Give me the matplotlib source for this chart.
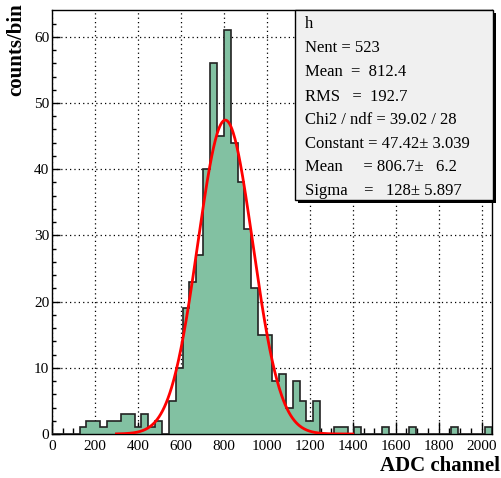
import numpy as np
import matplotlib
matplotlib.use("Agg")
import matplotlib.pyplot as plt
from matplotlib.patches import Rectangle

# ---- data ----
bin_width = 32
n_bins = 64
edges = np.arange(0, bin_width * n_bins + 1, bin_width)
# nonzero bin contents: bin index -> counts
bin_index = [4, 5, 6, 7, 8, 9, 10, 11, 12, 13, 14, 15,
             17, 18, 19, 20, 21, 22, 23, 24, 25, 26, 27, 28, 29, 30, 31,
             32, 33, 34, 35, 36, 37, 38, 41, 42, 44, 48, 52, 58, 63]
bin_counts = [1, 2, 2, 1, 2, 2, 3, 3, 1, 3, 1, 2,
              5, 10, 19, 23, 27, 40, 56, 45, 61, 44, 38, 31, 22, 15, 15,
              8, 9, 4, 8, 5, 2, 5, 1, 1, 1, 1, 1, 1, 1]
counts = np.zeros(n_bins)
counts[bin_index] = bin_counts

fit_constant = 47.42
fit_mean = 806.7
fit_sigma = 128.0
fit_range = (300, 1400)

stats_lines = ["h", "Nent = 523", "Mean  =  812.4", "RMS   =  192.7",
               "Chi2 / ndf = 39.02 / 28", "Constant = 47.42\u00b1 3.039",
               "Mean     = 806.7\u00b1   6.2", "Sigma    =   128\u00b1 5.897"]

x_ticks = [0, 200, 400, 600, 800, 1000, 1200, 1400, 1600, 1800, 2000]
y_ticks = [0, 10, 20, 30, 40, 50, 60]

# ---- figure ----
W, H = 502, 478
fig = plt.figure(figsize=(W / 100, H / 100), dpi=100)
serif = "Liberation Serif"
plt.rcParams["font.family"] = serif

def fx(px):
    return px / W

def fy(py):
    return 1 - py / H

ax = fig.add_axes([fx(52), fy(434), fx(492) - fx(52), fy(10) - fy(434)])
ax.set_xlim(0, 2048)
ax.set_ylim(0, 1.05 * counts.max())

fill_col = "#82c1a2"
ax.stairs(counts, edges, fill=True, color=fill_col, zorder=2)
ax.stairs(counts, edges, color="#222222", linewidth=1.2, zorder=3)

xf = np.linspace(fit_range[0], fit_range[1], 400)
yf = fit_constant * np.exp(-0.5 * ((xf - fit_mean) / fit_sigma) ** 2)
ax.plot(xf, yf, color="red", linewidth=2, zorder=4)

ax.set_xticks(x_ticks)
ax.set_yticks(y_ticks)
ax.set_xticks(np.arange(0, 2049, 50), minor=True)
ax.set_yticks(np.arange(0, 64, 2), minor=True)
ax.tick_params(axis="x", which="major", direction="in", length=9, width=1,
               labelsize=11, pad=4, top=False)
ax.tick_params(axis="x", which="minor", direction="in", length=4.5, width=1, top=False)
ax.tick_params(axis="y", which="major", direction="in", length=6, width=1,
               labelsize=11, pad=2, right=False)
ax.tick_params(axis="y", which="minor", direction="in", length=3, width=1, right=False)
for lab in ax.get_xticklabels() + ax.get_yticklabels():
    lab.set_fontfamily(serif)
ax.grid(True, which="major", linestyle=(0, (1, 2.5)), color="black", linewidth=0.9, zorder=1)
ax.set_axisbelow(True)
for sp in ax.spines.values():
    sp.set_linewidth(1)

fig.text(fx(500), fy(466), "ADC channel", ha="right", va="center",
         fontsize=15, fontweight="bold", family=serif)
fig.text(fx(16), fy(3), "counts/bin", ha="center", va="top", rotation=90,
         fontsize=15, fontweight="bold", family=serif)

# stats box
bx0, by0, bx1, by1 = 295, 10, 493, 200
shadow = Rectangle((fx(bx0 + 3), fy(by1 + 3)), fx(bx1) - fx(bx0), fy(by0) - fy(by1),
                   transform=fig.transFigure, facecolor="black", edgecolor="none", zorder=9)
box = Rectangle((fx(bx0), fy(by1)), fx(bx1) - fx(bx0), fy(by0) - fy(by1),
                transform=fig.transFigure, facecolor="#f0f0f0", edgecolor="black",
                linewidth=1, zorder=10)
fig.add_artist(shadow)
fig.add_artist(box)
ys = [24, 48, 72, 96.5, 120, 143.5, 167, 191]
for line, yy in zip(stats_lines, ys):
    fig.text(fx(305), fy(yy), line, ha="left", va="center", fontsize=12,
             family=serif, zorder=11)

fig.savefig("out.png", dpi=100)
